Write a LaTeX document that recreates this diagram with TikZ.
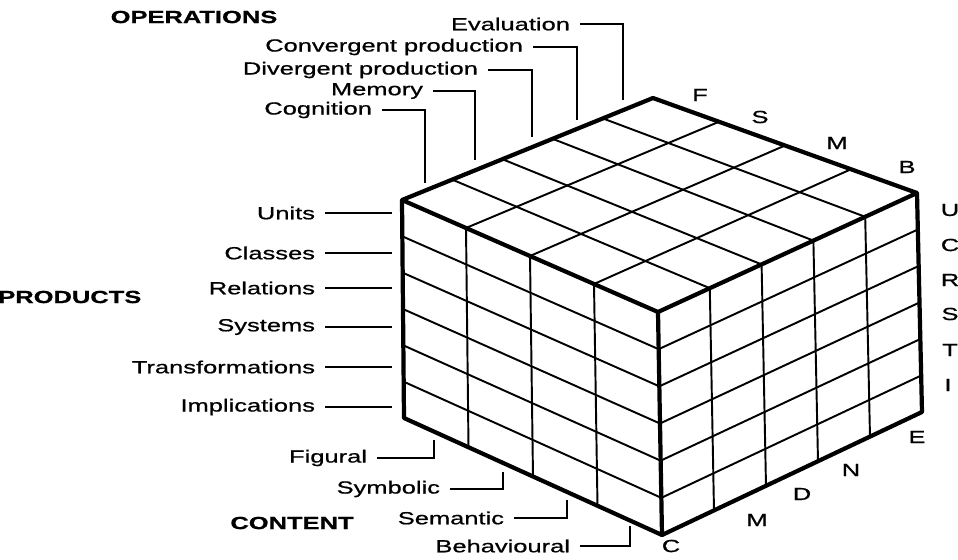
\documentclass[tikz,border=0pt]{standalone}
\usepackage{fontspec}
\setmainfont{Liberation Sans}[FakeStretch=1.45,FakeBold=0.8]
\usepackage{tikz}
\usetikzlibrary{calc}

\begin{document}
\begin{tikzpicture}[
  x=0.02cm, y=-0.02cm,
  lab/.style={font=\fontsize{10}{12}\selectfont, anchor=east, inner sep=5.5pt},
  head/.style={font=\fontsize{10}{12}\selectfont\bfseries, inner sep=0pt},
  letter/.style={font=\fontsize{10}{12}\selectfont, inner sep=0pt},
  leader/.style={line width=1.1pt},
  cubeedge/.style={line width=2.4pt, line join=round},
  gridline/.style={line width=1.1pt}
]
\useasboundingbox (0,0) rectangle (958,559);

% cube corners
\coordinate (L) at (402,200);
\coordinate (K) at (653,98);
\coordinate (R) at (917,193);
\coordinate (F) at (658,312);
\coordinate (LB) at (404,418);
\coordinate (FB) at (662,535);
\coordinate (RB) at (922,412);

% top face
\foreach \i in {1,...,4}
  \draw[gridline] ($(L)!{\i/5}!(K)$) -- ($(F)!{\i/5}!(R)$);
\foreach \j in {1,2,3}
  \draw[gridline] ($(L)!{\j/4}!(F)$) -- ($(K)!{\j/4}!(R)$);

% left face
\foreach \i in {1,...,5}
  \draw[gridline] ($(L)!{\i/6}!(LB)$) -- ($(F)!{\i/6}!(FB)$);
\foreach \j in {1,2,3}
  \draw[gridline] ($(L)!{\j/4}!(F)$) -- ($(LB)!{\j/4}!(FB)$);

% right face
\foreach \i in {1,...,5}
  \draw[gridline] ($(F)!{\i/6}!(FB)$) -- ($(R)!{\i/6}!(RB)$);
\foreach \j in {1,...,4}
  \draw[gridline] ($(F)!{\j/5}!(R)$) -- ($(FB)!{\j/5}!(RB)$);

% outline
\draw[cubeedge] (L) -- (K) -- (R) -- (F) -- cycle;
\draw[cubeedge] (L) -- (LB) -- (FB) -- (RB) -- (R);
\draw[cubeedge] (F) -- (FB);

% operations
\node[head] (ops) at (194,17) {OPERATIONS};
\node[lab] (cog) at (382,110) {Cognition};
\node[lab] (mem) at (433,91) {Memory};
\node[lab] (div) at (488,70) {Divergent production};
\node[lab] (con) at (533,47) {Convergent production};
\node[lab] (eva) at (580,24) {Evaluation};
\coordinate (cog-end) at (425,183);
\coordinate (mem-end) at (475,160);
\coordinate (div-end) at (532,137);
\coordinate (con-end) at (577,120);
\coordinate (eva-end) at (623,100);
\draw[leader] (cog) -| (cog-end);
\draw[leader] (mem) -| (mem-end);
\draw[leader] (div) -| (div-end);
\draw[leader] (con) -| (con-end);
\draw[leader] (eva) -| (eva-end);

% products
\node[head, anchor=west] (prod) at (-2,297) {PRODUCTS};
\node[lab] (uni) at (325,213) {Units};
\node[lab] (cla) at (325,253) {Classes};
\node[lab] (rel) at (325,288) {Relations};
\node[lab] (sys) at (325,327) {Systems};
\node[lab] (tra) at (325,367) {Transformations};
\node[lab] (imp) at (325,407) {Implications};
\coordinate (uni-end) at (392,213);
\coordinate (cla-end) at (392,253);
\coordinate (rel-end) at (392,288);
\coordinate (sys-end) at (392,327);
\coordinate (tra-end) at (392,367);
\coordinate (imp-end) at (392,407);
\foreach \p in {uni,cla,rel,sys,tra,imp}
  \draw[leader] (\p) -- (\p-end);

% content
\node[head] (cont) at (292,523) {CONTENT};
\node[lab] (fig) at (377,458) {Figural};
\node[lab] (sym) at (450,489) {Symbolic};
\node[lab] (sem) at (514,518) {Semantic};
\node[lab] (beh) at (580,546) {Behavioural};
\coordinate (fig-end) at (434,440);
\coordinate (sym-end) at (503,472);
\coordinate (sem-end) at (567,500);
\coordinate (beh-end) at (630,526);
\draw[leader] (fig) -| (fig-end);
\draw[leader] (sym) -| (sym-end);
\draw[leader] (sem) -| (sem-end);
\draw[leader] (beh) -| (beh-end);

% letters along the edges
\node[letter] (tF) at (700,95) {F};
\node[letter] (tS) at (760,117) {S};
\node[letter] (tM) at (837,143) {M};
\node[letter] (tB) at (907,167) {B};
\node[letter] (rU) at (950,210) {U};
\node[letter] (rC) at (950,245) {C};
\node[letter] (rR) at (950,280) {R};
\node[letter] (rS) at (950,314) {S};
\node[letter] (rT) at (950,350) {T};
\node[letter] (rI) at (948,385) {I};
\node[letter] (bE) at (917,437) {E};
\node[letter] (bN) at (851,470) {N};
\node[letter] (bD) at (802,494) {D};
\node[letter] (bM) at (757,520) {M};
\node[letter] (bC) at (671,546) {C};
\end{tikzpicture}
\end{document}
